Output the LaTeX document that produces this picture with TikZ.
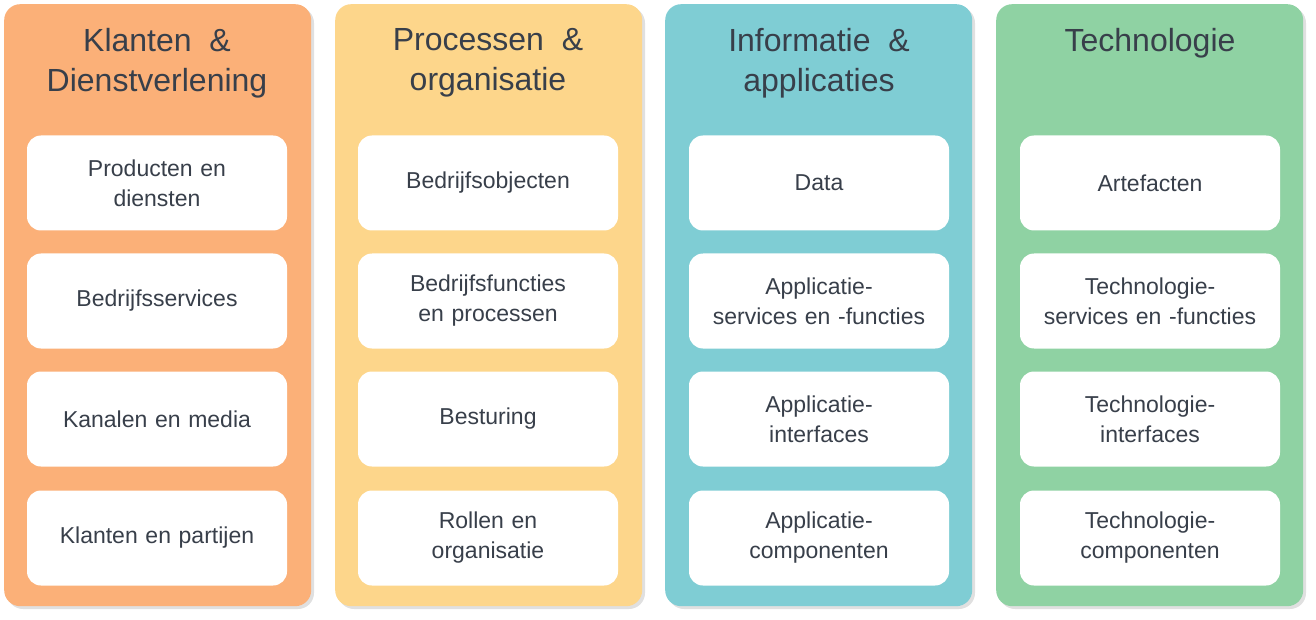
\documentclass[tikz,border=0pt]{standalone}
\usepackage{fontspec}
\setmainfont{Liberation Sans}
\usetikzlibrary{positioning}
\definecolor{colOrange}{HTML}{FBB078}
\definecolor{colYellow}{HTML}{FDD68B}
\definecolor{colTeal}{HTML}{7FCDD4}
\definecolor{colGreen}{HTML}{8FD2A3}
\definecolor{textGray}{HTML}{383F4A}
\begin{document}
\begin{tikzpicture}[
    x=1pt, y=-1pt,
    column/.style={
        rectangle,
        rounded corners=16pt,
        minimum width=307pt,
        minimum height=602pt,
        anchor=north west,
        inner sep=0pt
    },
    title/.style={
        text=textGray,
        font=\fontsize{32}{40}\selectfont,
        align=center
    },
    item/.style={
        rectangle,
        rounded corners=14pt,
        fill=white,
        minimum width=260pt,
        minimum height=95pt,
        text width=250pt,
        align=center,
        inner sep=0pt,
        text=textGray,
        font=\fontsize{23}{30}\selectfont
    }
]
\useasboundingbox (0,0) rectangle (1316,620);

% -------------------- Columns -------------------------
\foreach \cx/\cc in {4/colOrange, 335/colYellow, 665/colTeal, 996/colGreen} {
  \fill[black!12, rounded corners=16pt] (\cx+3,7) rectangle ++(307,602);
  \node[column, fill=\cc] at (\cx,4) {};
}

% -------------------- Titles --------------------------
\node[title] (t1) at (157,63) {Klanten\ \ \&\\Dienstverlening};
\node[title] (t2) at (488,63) {Processen\ \ \&\\organisatie};
\node[title] (t3) at (819,63) {Informatie\ \ \&\\applicaties};
\node[title] (t4) at (1150,43) {Technologie};

% -------------------- Items ---------------------------
\node[item] (k1) at (157,183) {Producten en\\diensten};
\node[item] (k2) at (157,301) {Bedrijfsservices};
\node[item] (k3) at (157,419) {Kanalen en media};
\node[item] (k4) at (157,538) {Klanten en partijen};

\node[item] (p1) at (488,183) {Bedrijfsobjecten};
\node[item] (p2) at (488,301) {Bedrijfsfuncties\\en processen};
\node[item] (p3) at (488,419) {Besturing};
\node[item] (p4) at (488,538) {Rollen en\\organisatie};

\node[item] (i1) at (819,183) {Data};
\node[item] (i2) at (819,301) {Applicatie-\\services en -functies};
\node[item] (i3) at (819,419) {Applicatie-\\interfaces};
\node[item] (i4) at (819,538) {Applicatie-\\componenten};

\node[item] (g1) at (1150,183) {Artefacten};
\node[item] (g2) at (1150,301) {Technologie-\\services en -functies};
\node[item] (g3) at (1150,419) {Technologie-\\interfaces};
\node[item] (g4) at (1150,538) {Technologie-\\componenten};

\end{tikzpicture}
\end{document}
